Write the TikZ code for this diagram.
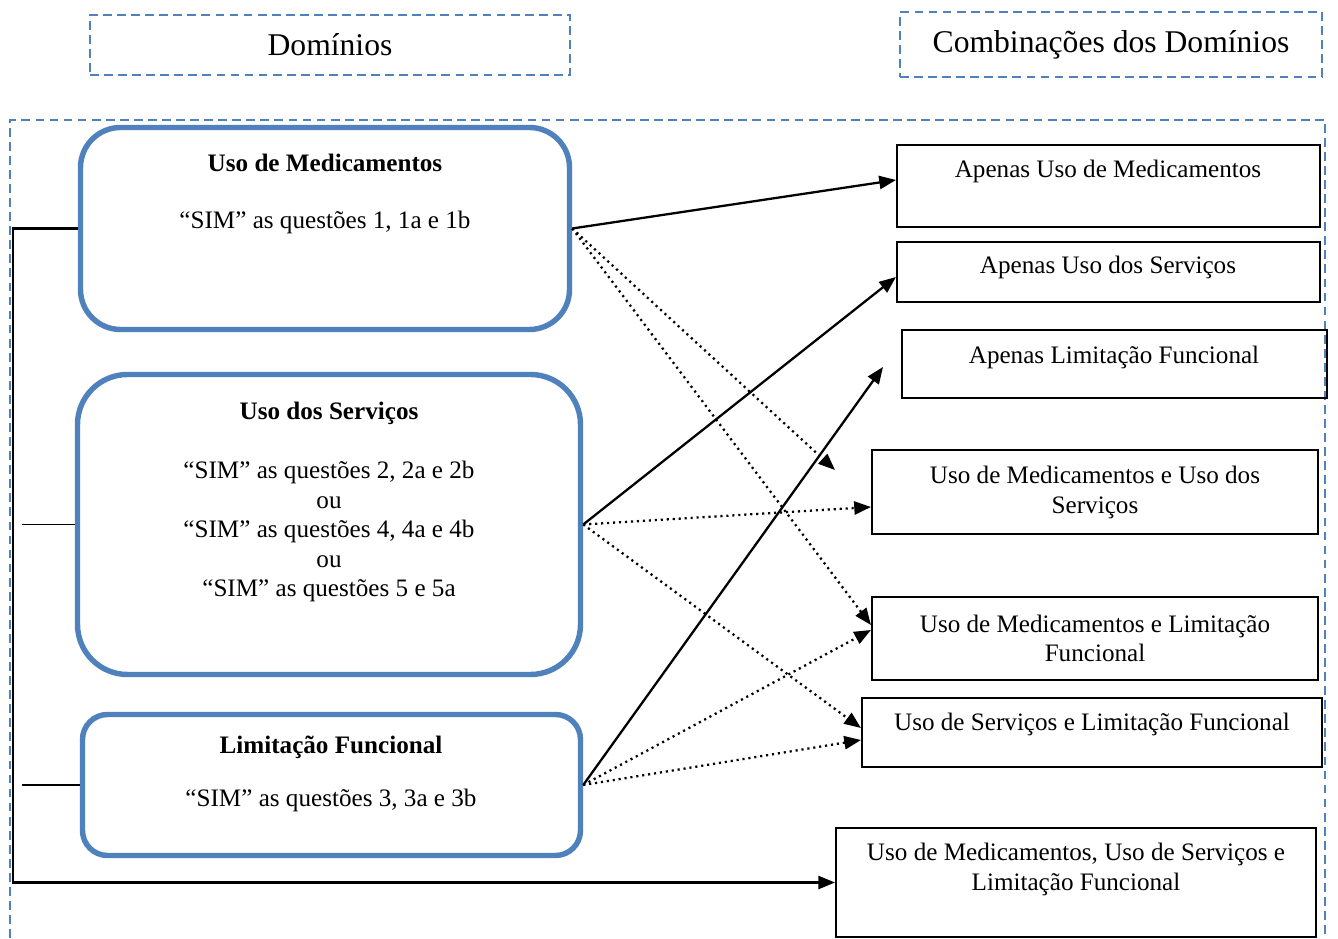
\documentclass[tikz,border=0pt]{standalone}
\usepackage{fontspec}
\setmainfont{Liberation Serif}
\usepackage{xcolor}
\usepackage{tikz}
\usetikzlibrary{arrows.meta, calc}

\definecolor{domBlue}{HTML}{4F81BD}

\begin{document}
\begin{tikzpicture}[
    % ── boxes ──
    headBox/.style   = {draw=domBlue, line width=1.4pt,
                        dash pattern=on 5pt off 3pt},
    domBox/.style    = {draw=domBlue, line width=3.1pt},
    comboBox/.style  = {draw=black, line width=1.2pt},
    % ── arrows ──
    arr/.style       = {-{Triangle[length=9.5pt,width=7.5pt]}, line width=1.3pt},
    dotArr/.style    = {arr, dash pattern=on 1.2pt off 2.2pt},
    % ── text styles ──
    headLabel/.style = {font=\fontsize{18}{22}\selectfont},
    titleLabel/.style= {font=\fontsize{14.3}{17}\selectfont\bfseries},
    bodyLabel/.style = {font=\fontsize{14.3}{16.8}\selectfont, align=center},
]

\useasboundingbox (0,0) rectangle (26.76,18.76);

% =====================================================================
% Headers
% =====================================================================
\node[headBox, minimum width=9.6cm, minimum height=1.2cm, headLabel] (domHead)
  at (6.6,17.86) {Domínios};
\node[headBox, minimum width=8.44cm, minimum height=1.3cm, headLabel] (comboHead)
  at (22.22,17.87) {Combinações dos Domínios};

% outer frame (runs off the bottom)
\draw[headBox] (0.2,0) -- (0.2,16.36) -- (26.5,16.36) -- (26.5,0);

% =====================================================================
% Domain boxes (left)
% =====================================================================
\node[domBox, rounded corners=0.8cm, minimum width=9.78cm, minimum height=4.04cm]
  (usoMed) at (6.5,14.19) {};
\node[titleLabel] (usoMedTitle) at (6.5,15.51) {Uso de Medicamentos};
\node[bodyLabel]  (usoMedText)  at (6.5,14.32) {“SIM” as questões 1, 1a e 1b};

\node[domBox, rounded corners=1cm, minimum width=10.06cm, minimum height=6cm]
  (usoServ) at (6.58,8.27) {};
\node[titleLabel] (usoServTitle) at (6.58,10.49) {Uso dos Serviços};
\node[bodyLabel]  (usoServText)  at (6.58,8.13)
  {“SIM” as questões 2, 2a e 2b\\ou\\“SIM” as questões 4, 4a e 4b\\ou\\“SIM” as questões 5 e 5a};

\node[domBox, rounded corners=0.5cm, minimum width=9.96cm, minimum height=2.82cm]
  (limFunc) at (6.63,3.06) {};
\node[titleLabel] (limFuncTitle) at (6.62,3.81) {Limitação Funcional};
\node[bodyLabel]  (limFuncText)  at (6.62,2.76) {“SIM” as questões 3, 3a e 3b};

% =====================================================================
% Combination boxes (right)
% =====================================================================
\node[comboBox, minimum width=8.46cm, minimum height=1.64cm] (apenasMed)
  at (22.17,15.04) {};
\node[bodyLabel] (apenasMedText) at (22.16,15.33) {Apenas Uso de Medicamentos};

\node[comboBox, minimum width=8.46cm, minimum height=1.2cm] (apenasServ)
  at (22.17,13.32) {};
\node[bodyLabel] (apenasServText) at (22.16,13.41) {Apenas Uso dos Serviços};

\node[comboBox, minimum width=8.5cm, minimum height=1.36cm] (apenasLim)
  at (22.29,11.48) {};
\node[bodyLabel] (apenasLimText) at (22.28,11.61) {Apenas Limitação Funcional};

\node[comboBox, minimum width=8.92cm, minimum height=1.68cm] (medServ)
  at (21.9,8.92) {};
\node[bodyLabel] (medServText) at (21.9,8.91)
  {Uso de Medicamentos e Uso dos\\Serviços};

\node[comboBox, minimum width=8.92cm, minimum height=1.66cm] (medLim)
  at (21.9,5.99) {};
\node[bodyLabel] (medLimText) at (21.9,5.99)
  {Uso de Medicamentos e Limitação\\Funcional};

\node[comboBox, minimum width=9.2cm, minimum height=1.38cm] (servLim)
  at (21.84,4.11) {};
\node[bodyLabel] (servLimText) at (21.84,4.27) {Uso de Serviços e Limitação Funcional};

\node[comboBox, minimum width=9.6cm, minimum height=2.18cm] (todos)
  at (21.52,1.11) {};
\node[bodyLabel] (todosText) at (21.52,1.37)
  {Uso de Medicamentos, Uso de Serviços e\\Limitação Funcional};

% free arrow ends
\coordinate (medFree) at (16.7,9.36);
\coordinate (limFree) at (17.66,11.42);

% =====================================================================
% Connectors
% =====================================================================
% from Uso de Medicamentos
\draw[arr]    (usoMed.east) -- ($(apenasMed.west)+(0,0.12)$);
\draw[dotArr] (usoMed.east) -- (medFree);
\draw[dotArr] (usoMed.east) -- ($(medLim.west)+(0,0.27)$);

% from Uso dos Serviços
\draw[arr]    (usoServ.east) -- ($(apenasServ.west)+(0,-0.1)$);
\draw[dotArr] (usoServ.east) -- ($(medServ.west)+(0,-0.3)$);
\draw[dotArr] (usoServ.east) -- ($(servLim.west)+(0,0.09)$);

% from Limitação Funcional
\draw[arr]    (limFunc.east) -- (limFree);
\draw[dotArr] (limFunc.east) -- ($(medLim.west)+(0,0.17)$);
\draw[dotArr] (limFunc.east) -- ($(servLim.west)+(0,-0.15)$);

% left bus -> all three
\draw[arr] (usoMed.west) -- ++(-1.3,0) |- (todos.west);
\draw[line width=0.9pt] (usoServ.west) -- ++(-1.06,0);
\draw[line width=0.9pt] (limFunc.west) -- ++(-1.16,0);

\end{tikzpicture}
\end{document}
